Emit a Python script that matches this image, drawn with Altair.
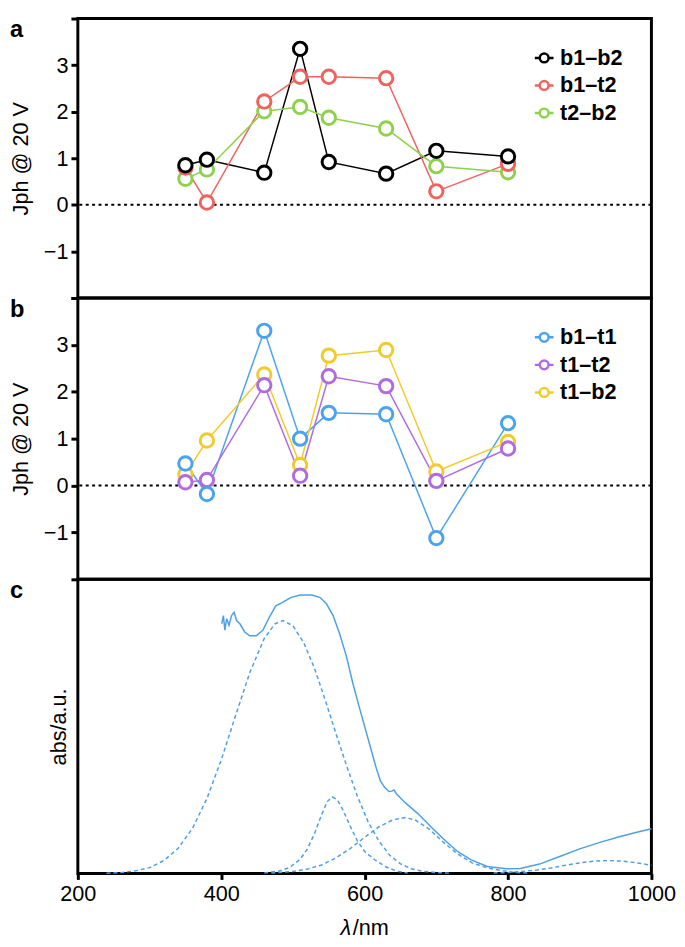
import altair as alt
import pandas as pd

# ---------------- data ----------------
WL = [350, 380, 460, 510, 550, 630, 700, 800]

A_NAMES = ["b1–b2", "b1–t2", "t2–b2"]
A_COLORS = ["#000000", "#f0625e", "#8dd14d"]
A_Z = [3, 2, 1]
A_B1B2 = [0.85, 0.97, 0.69, 3.35, 0.92, 0.67, 1.16, 1.04]
A_B1T2 = [0.80, 0.05, 2.22, 2.75, 2.75, 2.72, 0.29, 0.88]
A_T2B2 = [0.56, 0.76, 2.01, 2.10, 1.87, 1.64, 0.83, 0.70]

B_NAMES = ["b1–t1", "t1–t2", "t1–b2"]
B_COLORS = ["#4ba3f0", "#b06be0", "#f1cb2c"]
B_Z = [3, 2, 1]
B_B1T1 = [0.47, -0.18, 3.30, 1.00, 1.55, 1.52, -1.12, 1.33]
B_T1T2 = [0.07, 0.12, 2.14, 0.21, 2.33, 2.12, 0.10, 0.79]
B_T1B2 = [0.24, 0.96, 2.37, 0.44, 2.77, 2.89, 0.30, 0.93]

Y_TICKS = [-2, -1, 0, 1, 2, 3, 4]
X_TICKS = [200, 400, 600, 800, 1000]

# absorbance spectrum (arbitrary units, 0 = bottom of panel, 1 = top)
ABS_WL = [400.7, 403, 405, 407.6, 410.8, 414.4, 418, 421.3, 426, 432.8, 439.6, 448.8,
          458, 467, 476, 485, 496.7, 510.4, 526.5, 538, 547, 556, 565, 574.5, 583.7,
          592, 600, 608, 616, 622, 628, 634, 638, 641, 644, 648, 657, 675, 693, 712, 730,
          748, 771, 798, 817, 844, 872, 899, 927, 954, 981, 1000]
ABS_V = [0.849, 0.877, 0.827, 0.866, 0.844, 0.877, 0.888, 0.860, 0.849, 0.821, 0.808, 0.808,
         0.827, 0.871, 0.910, 0.921, 0.938, 0.947, 0.947, 0.938, 0.916, 0.877, 0.816, 0.739, 0.645,
         0.570, 0.500, 0.430, 0.360, 0.315, 0.292, 0.279, 0.280, 0.284, 0.272, 0.262, 0.240, 0.202,
         0.157, 0.113, 0.074, 0.047, 0.024, 0.016, 0.017, 0.032, 0.058, 0.083, 0.105, 0.124, 0.141,
         0.152]

P1_WL = [240, 260, 280, 300, 320, 340, 360, 380, 400, 420, 440, 460, 475, 486, 500, 515,
         530, 545, 560, 575, 590, 605, 620, 635, 650, 665, 680, 700, 720]
P1_V = [0.001, 0.003, 0.009, 0.020, 0.044, 0.086, 0.154, 0.255, 0.386, 0.537, 0.684, 0.799,
        0.849, 0.860, 0.842, 0.785, 0.698, 0.590, 0.476, 0.365, 0.262, 0.175, 0.110, 0.062,
        0.033, 0.016, 0.008, 0.003, 0.001]

P2_WL = [460, 480, 495, 510, 520, 530, 540, 548, 555, 562, 570, 580, 590, 600, 615, 630, 645, 660]
P2_V = [0.002, 0.008, 0.020, 0.048, 0.083, 0.135, 0.200, 0.245, 0.260, 0.250, 0.215, 0.160,
        0.110, 0.075, 0.045, 0.022, 0.008, 0.002]

P3_WL = [470, 500, 520, 540, 560, 580, 600, 620, 640, 656, 670, 690, 710, 730, 750, 770, 790, 810, 830]
P3_V = [0.002, 0.007, 0.015, 0.029, 0.053, 0.085, 0.123, 0.159, 0.183, 0.190, 0.183, 0.151,
        0.106, 0.066, 0.036, 0.020, 0.010, 0.004, 0.001]

P4_WL = [780, 800, 820, 840, 860, 880, 900, 920, 940, 960, 980, 1000]
P4_V = [0.002, 0.003, 0.007, 0.012, 0.019, 0.028, 0.036, 0.042, 0.044, 0.042, 0.036, 0.028]

# ---------------- styling ----------------
FONT = "Liberation Sans"
W = 583
H_A, H_B, H_C = 284, 286, 299
SPEC_BLUE = "#4d9fe6"
LEG_SYMBOL = ("M -1 0 L -0.47 0 M 0.47 0 L 1 0 "
              "M 0.47 0 A 0.47 0.47 0 1 1 -0.47 0 A 0.47 0.47 0 1 1 0.47 0 Z")


def long_df(names, series, zs):
    rows = []
    for name, vals, z in zip(names, series, zs):
        for w, v in zip(WL, vals):
            rows.append({"wl": w, "jph": v, "series": name, "z": z})
    return pd.DataFrame(rows)


def text_layer(txt, x, y, size=24, weight="bold", style="normal", baseline="middle"):
    return alt.Chart(pd.DataFrame({"t": [txt]})).mark_text(
        font=FONT, fontSize=size, fontWeight=weight, fontStyle=style, align="left",
        baseline=baseline, color="black",
    ).encode(text="t:N", x=alt.value(x), y=alt.value(y))


def jph_panel(df, names, colors, letter, height):
    x = alt.X("wl:Q", scale=alt.Scale(domain=[200, 1000], nice=False, zero=False), axis=None)
    y = alt.Y(
        "jph:Q",
        scale=alt.Scale(domain=[-2, 4], nice=False, zero=False),
        axis=alt.Axis(
            values=Y_TICKS,
            labelExpr="datum.value >= -1 && datum.value <= 3 ? datum.label : ''",
            title="Jph @ 20 V", titleFont=FONT, titleFontSize=22, titleFontWeight="normal",
            titleColor="black", titleX=-58, titleY=height / 2, titleAngle=270,
            titleBaseline="middle", titleAlign="center",
            labelFont=FONT, labelFontSize=22, labelColor="black", labelPadding=3,
            tickSize=7, tickWidth=3, tickColor="black", domain=False, grid=False,
        ),
    )
    stroke = alt.Stroke(
        "series:N",
        scale=alt.Scale(domain=names, range=colors),
        legend=alt.Legend(
            title=None, orient="none", legendX=463, legendY=29, padding=0,
            symbolType=LEG_SYMBOL, symbolSize=361, symbolStrokeWidth=2.5,
            symbolFillColor="white", labelFont=FONT, labelFontSize=22,
            labelFontWeight="bold", labelColor="black", labelOffset=5, rowPadding=6,
        ),
    )
    base = alt.Chart(df)
    lines = base.mark_line(strokeWidth=1.5).encode(x=x, y=y, stroke=stroke)
    pts = base.mark_point(
        shape="circle", size=185, strokeWidth=3, filled=True, fill="white",
        fillOpacity=1, opacity=1,
    ).encode(x=x, y=y, stroke=stroke, order=alt.Order("z:Q"))
    zero = alt.Chart(pd.DataFrame({"jph": [0]})).mark_rule(
        color="black", strokeWidth=2, strokeDash=[3, 3.5]
    ).encode(y="jph:Q")
    return alt.layer(zero, lines, pts, text_layer(letter, -69, 12)).properties(
        width=W, height=height
    )


panel_a = jph_panel(long_df(A_NAMES, [A_B1B2, A_B1T2, A_T2B2], A_Z), A_NAMES, A_COLORS, "a", H_A)
panel_b = jph_panel(long_df(B_NAMES, [B_B1T1, B_T1T2, B_T1B2], B_Z), B_NAMES, B_COLORS, "b", H_B)

# ---------------- panel c ----------------
spec_df = pd.DataFrame({"wl": ABS_WL, "v": ABS_V})
comp_rows = []
for cname, cw, cv in [("p1", P1_WL, P1_V), ("p2", P2_WL, P2_V), ("p3", P3_WL, P3_V), ("p4", P4_WL, P4_V)]:
    for w, v in zip(cw, cv):
        comp_rows.append({"wl": w, "v": v, "comp": cname})
comp_df = pd.DataFrame(comp_rows)

xc = alt.X(
    "wl:Q",
    scale=alt.Scale(domain=[200, 1000], nice=False, zero=False),
    axis=alt.Axis(
        values=X_TICKS, format="d", title=None, labelFont=FONT,
        labelFontSize=22, labelColor="black", labelPadding=4, labelFlush=False, tickSize=6,
        tickWidth=3, tickColor="black", domain=False, grid=False,
    ),
)
yc = alt.Y(
    "v:Q",
    scale=alt.Scale(domain=[0, 1], nice=False, zero=False),
    axis=alt.Axis(
        title="abs/a.u.", titleFont=FONT, titleFontSize=22, titleFontWeight="normal",
        titleColor="black", titleX=-20, titleY=H_C / 2, titleAngle=270, titleBaseline="middle",
        titleAlign="center", labels=False, ticks=False, domain=False, grid=False,
    ),
)
solid = alt.Chart(spec_df).mark_line(color=SPEC_BLUE, strokeWidth=1.5).encode(x=xc, y=yc)
dashed = alt.Chart(comp_df).mark_line(color=SPEC_BLUE, strokeWidth=1.5, strokeDash=[4, 3]).encode(
    x=xc, y=yc, detail="comp:N"
)
# x-axis title "λ/nm" with an italic lambda, centred under 600 nm
lam = text_layer("λ", 267, H_C + 56, size=22, weight="normal", style="italic")
unit = text_layer("/nm", 279.5, H_C + 56, size=22, weight="normal")
panel_c = alt.layer(dashed, solid, text_layer("c", -69, 12), lam, unit).properties(
    width=W, height=H_C
)

chart = (
    alt.vconcat(panel_a, panel_b, panel_c, spacing=0, bounds="flush")
    .resolve_scale(stroke="independent", x="independent", y="independent")
    .resolve_legend(stroke="independent")
    .properties(padding={"left": 0, "top": 0, "right": 0, "bottom": 0}, background="white")
    .configure_view(stroke="black", strokeWidth=3)
)

chart.save("out.html", embed_options={"renderer": "svg", "actions": False})
